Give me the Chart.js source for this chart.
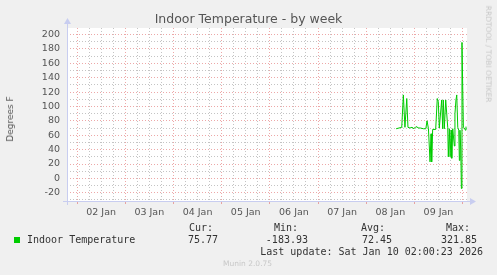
<!DOCTYPE html>
<html>
<head>
<meta charset="utf-8">
<script src="https://cdn.jsdelivr.net/npm/chart.js@4.4.1/dist/chart.umd.min.js"></script>
<style>
html, body { margin: 0; padding: 0; background: #f0f0f0; }
#wrap { position: relative; width: 497px; height: 275px; overflow: hidden; }
canvas { position: absolute; left: 0; top: 0; }
.t { position: absolute; white-space: pre; }
.mono { font: 10px "DejaVu Sans Mono", monospace; color: #333; line-height: 10px; }
</style>
</head>
<body>
<div id="wrap">
  <canvas id="chart" width="497" height="275"></canvas>
  <div class="t" id="title" style="left:0;top:12px;width:497px;text-align:center;font:12.5px 'DejaVu Sans';color:#555;line-height:14px;"></div>
  <div class="t" id="yTitle" style="left:10px;top:119px;font:9px 'DejaVu Sans';color:#555;line-height:10px;transform:translate(-50%,-50%) rotate(-90deg);"></div>
  <div class="t" id="credit" style="left:488px;top:54px;font:7.5px 'DejaVu Sans';color:#c8c8c8;line-height:8px;transform:translate(-50%,-50%) rotate(90deg);">RRDTOOL / TOBI OETIKER</div>
  <div id="legend"></div>
  <div class="t" style="left:223px;top:260px;font:7.5px 'DejaVu Sans';color:#c8c8c8;line-height:8px;">Munin 2.0.75</div>
</div>
<script>
// data (x = hours since 02 Jan 00:00)
const chartTitle = 'Indoor Temperature - by week';
const yTitle = 'Degrees F';
const seriesName = 'Indoor Temperature';
const hours = [158.9, 161.7, 162.5, 163.3, 164.2, 164.8, 165.8, 166.8, 167.8, 168.8,
  170.2, 171.0, 172.5, 173.7, 174.3, 175.0, 175.8, 176.3, 176.6, 177.1,
  178.6, 179.4, 179.9, 180.4, 181.6, 182.1, 182.4, 182.9, 183.6, 184.6,
  184.9, 185.4, 185.8, 186.3, 186.6, 187.1, 187.9, 188.2, 188.7, 189.1,
  189.6, 190.1, 190.4, 190.7, 191.1, 191.4, 191.7, 192.4, 192.9, 193.4, 193.7];
const temps = [69, 71, 116, 71, 111, 71, 70, 71, 69, 72,
  70, 70, 69, 69, 80, 69, 23, 62, 23, 68,
  68, 111, 107, 70, 109, 69, 109, 69, 109, 71,
  30, 69, 30, 67, 28, 69, 45, 90, 109, 116,
  71, 67, 25, 67, 40, -14, 189, 71, 70, 67, 72];
const dayLabels = ['02 Jan', '03 Jan', '04 Jan', '05 Jan', '06 Jan', '07 Jan', '08 Jan', '09 Jan'];
const yTicks = [-30, -20, -10, 0, 10, 20, 30, 40, 50, 60, 70, 80, 90, 100, 110, 120, 130, 140, 150, 160, 170, 180, 190, 200];
const statNames = ['Cur:', 'Min:', 'Avg:', 'Max:'];
const statValues = ['75.77', '-183.93', '72.45', '321.85'];
const lastUpdate = 'Last update: Sat Jan 10 02:00:23 2026';

const green = '#00cc00';
const redGrid = 'rgba(225,110,110,0.6)';
const grayGrid = '#c4c4c4';
const axisColor = '#c8cdf0';

document.getElementById('title').textContent = chartTitle;
document.getElementById('yTitle').textContent = yTitle;

// legend block under the graph
const legend = document.getElementById('legend');
function addText(txt, right, top, left) {
    const d = document.createElement('div');
    d.className = 't mono';
    d.textContent = txt;
    d.style.top = top + 'px';
    if (left !== undefined) d.style.left = left + 'px';
    else d.style.right = (497 - right) + 'px';
    legend.appendChild(d);
}
const headRight = [213, 298, 385, 470];
const valRight = [218, 308, 392, 477];
statNames.forEach((n, i) => addText(n, headRight[i], 223));
statValues.forEach((v, i) => addText(v, valRight[i], 235));
addText(seriesName, 0, 235, 27);
addText(lastUpdate, 483, 247);
const sq = document.createElement('div');
sq.style.cssText = 'position:absolute;left:14px;top:237px;width:6px;height:6px;background:' + green;
legend.appendChild(sq);

const points = hours.map((h, i) => ({ x: h, y: temps[i] }));

const munin = {
    id: 'munin',
    beforeDraw(chart) {
        const a = chart.chartArea, c = chart.ctx;
        c.save();
        c.fillStyle = '#fff';
        c.fillRect(a.left, a.top, a.right - a.left, a.bottom - a.top);
        c.restore();
    },
    afterDraw(chart) {
        const a = chart.chartArea, c = chart.ctx;
        c.save();
        c.strokeStyle = axisColor;
        c.fillStyle = axisColor;
        c.lineWidth = 1;
        c.beginPath();
        c.moveTo(a.left - 4, a.bottom + 0.5);
        c.lineTo(a.right + 3, a.bottom + 0.5);
        c.moveTo(a.left + 0.5, a.bottom + 4);
        c.lineTo(a.left + 0.5, a.top - 4);
        c.stroke();
        c.beginPath();
        c.moveTo(a.right + 9, a.bottom + 0.5);
        c.lineTo(a.right + 3, a.bottom - 3);
        c.lineTo(a.right + 3, a.bottom + 4);
        c.fill();
        c.beginPath();
        c.moveTo(a.left + 0.5, a.top - 10);
        c.lineTo(a.left - 3, a.top - 4);
        c.lineTo(a.left + 4, a.top - 4);
        c.fill();
        c.restore();
    }
};

new Chart(document.getElementById('chart'), {
    type: 'line',
    data: {
        datasets: [{
            label: seriesName,
            data: points,
            borderColor: green,
            borderWidth: 1,
            pointRadius: 0,
            tension: 0,
            fill: false
        }]
    },
    options: {
        responsive: false,
        animation: false,
        devicePixelRatio: 1,
        layout: { padding: { top: 28, right: 30, left: 0, bottom: 0 } },
        plugins: { legend: { display: false }, title: { display: false }, tooltip: { enabled: false } },
        scales: {
            x: {
                type: 'linear',
                min: -5,
                max: 194.2,
                afterBuildTicks: s => {
                    const t = [];
                    for (let h = 0; h <= 192; h += 6) t.push({ value: h });
                    s.ticks = t;
                },
                afterFit: s => { s.height = 74; },
                grid: {
                    color: ctx => ctx.tick && ctx.tick.value % 24 === 0 ? redGrid : grayGrid,
                    tickColor: ctx => ctx.tick && ctx.tick.value % 24 === 0 ? redGrid : 'rgba(0,0,0,0)',
                    tickLength: 3,
                    lineWidth: 1
                },
                border: { display: false, dash: [1, 2] },
                ticks: {
                    autoSkip: false,
                    maxRotation: 0,
                    padding: 3,
                    color: '#555',
                    font: { family: 'DejaVu Sans', size: 9.5 },
                    callback: v => (v % 24 === 12 ? dayLabels[Math.floor(v / 24)] : '')
                }
            },
            y: {
                type: 'linear',
                min: -31.4,
                max: 209,
                afterBuildTicks: s => { s.ticks = yTicks.map(v => ({ value: v })); },
                afterFit: s => { s.width = 67; },
                grid: {
                    color: ctx => ctx.tick && ctx.tick.value % 20 === 0 ? redGrid : grayGrid,
                    drawTicks: false,
                    lineWidth: 1
                },
                border: { display: false, dash: [1, 2] },
                ticks: {
                    autoSkip: false,
                    padding: 7,
                    color: '#555',
                    font: { family: 'DejaVu Sans', size: 9.5 },
                    callback: v => (v % 20 === 0 ? String(v) : '')
                }
            }
        }
    },
    plugins: [munin]
});
</script>
</body>
</html>
